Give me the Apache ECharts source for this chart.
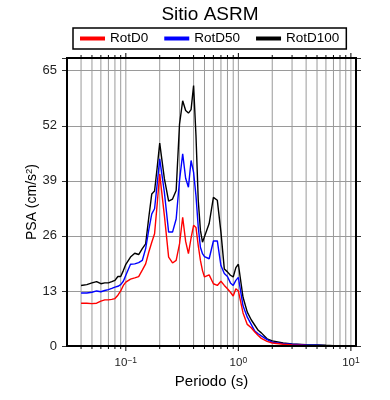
<!DOCTYPE html>
<html>
<head>
<meta charset="utf-8">
<script src="https://cdn.jsdelivr.net/npm/echarts@6/dist/echarts.min.js"></script>
<style>
  html, body { margin: 0; padding: 0; background: #fff; }
  #chart { width: 390px; height: 400px; }
</style>
</head>
<body>
<div id="chart"></div>
<script>
// periodos (s)
const periods = [0.04, 0.045, 0.05, 0.055, 0.06, 0.065, 0.07, 0.075, 0.08, 0.085, 0.09, 0.095,
  0.1, 0.11, 0.12, 0.13, 0.14, 0.15, 0.16, 0.17, 0.18, 0.19, 0.2,
  0.22, 0.24, 0.26, 0.28, 0.3, 0.32, 0.34, 0.36, 0.38, 0.4, 0.42, 0.44, 0.46, 0.48, 0.5,
  0.55, 0.6, 0.65, 0.7, 0.75, 0.8, 0.85, 0.9, 0.95, 1.0,
  1.1, 1.2, 1.3, 1.4, 1.5, 1.6, 1.8, 2.0, 2.5, 3.0, 4.0, 5.0, 6.0, 7.0, 8.0, 10.0];

const rotD0 = [10.1, 10.1, 10.0, 10.1, 10.6, 10.9, 10.9, 11.0, 11.2, 12.0, 13.0, 14.3,
  15.1, 15.8, 16.1, 16.4, 17.9, 19.4, 22.2, 24.5, 26.5, 33.6, 40.6,
  30.8, 21.0, 19.6, 20.2, 24.1, 30.4, 24.7, 21.8, 25.5, 28.5, 28.0, 23.7, 20.2, 17.8, 16.3,
  16.8, 14.7, 14.3, 15.3, 14.3, 13.5, 12.7, 11.8, 13.5, 13.0,
  7.8, 5.1, 4.3, 3.3, 2.5, 1.8, 1.1, 0.7, 0.4, 0.25, 0.15, 0.1, 0.07, 0.05, 0.04, 0.02];

const rotD50 = [12.5, 12.5, 12.7, 13.0, 12.8, 13.1, 13.3, 13.6, 13.9, 14.1, 14.5, 15.3,
  16.7, 19.3, 19.4, 19.7, 20.2, 23.0, 27.5, 31.2, 32.4, 38.3, 44.2,
  36.3, 26.9, 26.9, 30.0, 39.1, 45.4, 39.6, 37.5, 43.8, 41.0, 35.5, 28.1, 23.3, 21.8, 21.1,
  20.6, 24.8, 24.8, 19.0, 17.1, 16.4, 14.9, 14.3, 15.5, 16.2,
  9.5, 6.8, 5.1, 3.5, 2.9, 2.4, 1.5, 0.9, 0.55, 0.4, 0.24, 0.16, 0.1, 0.07, 0.05, 0.03];

const rotD100 = [14.3, 14.5, 14.9, 15.2, 14.7, 14.9, 14.9, 15.2, 15.5, 16.4, 16.4, 17.8,
  19.3, 21.0, 21.9, 21.6, 23.0, 24.1, 30.4, 35.9, 36.6, 42.2, 47.9,
  39.5, 34.2, 34.7, 36.7, 52.4, 57.9, 55.6, 55.0, 55.8, 61.5, 49.7, 34.4, 27.3, 24.5, 24.1,
  28.9, 35.1, 34.4, 26.9, 18.2, 17.5, 16.7, 16.3, 18.5, 19.3,
  11.5, 8.0, 6.2, 4.9, 3.7, 3.1, 1.7, 1.2, 0.7, 0.5, 0.3, 0.24, 0.16, 0.1, 0.08, 0.05];

// lineas verticales de la grilla logaritmica
const gridPeriods = [0.04, 0.05, 0.06, 0.07, 0.08, 0.09, 0.1, 0.2, 0.3, 0.4, 0.5, 0.6, 0.7, 0.8, 0.9,
  1, 2, 3, 4, 5, 6, 7, 8, 9, 10];
const majorPeriods = [0.1, 1, 10];
const yTickStep = 13;

const font = '"Liberation Sans", Arial, Helvetica, sans-serif';
const gridColor = '#9a9a9a';

const pairs = (vals) => periods.map((p, i) => [p, vals[i]]);

const chart = echarts.init(document.getElementById('chart'), null, { renderer: 'canvas' });

function powLabel(v) {
  const e = Math.round(Math.log10(v));
  if (Math.abs(Math.log10(v) - e) > 1e-6) return '';
  const exp = e < 0 ? '\u2212' + (-e) : String(e);
  return '{b|10}{sup|' + exp + '}';
}

chart.setOption({
  backgroundColor: '#fff',
  animation: false,
  textStyle: { fontFamily: font },
  title: {
    text: 'Sitio ASRM',
    left: 210,
    textAlign: 'center',
    top: 5,
    padding: 0,
    textStyle: { fontSize: 19, fontWeight: 'normal', color: '#000', fontFamily: font }
  },
  legend: {
    data: ['RotD0', 'RotD50', 'RotD100'],
    left: 73,
    top: 28,
    icon: 'rect',
    itemWidth: 25,
    itemHeight: 4,
    itemGap: 16,
    padding: [3.5, 7, 3.5, 7],
    borderColor: '#000',
    borderWidth: 1.5,
    textStyle: { fontSize: 13.5, color: '#000', fontFamily: font, lineHeight: 14 }
  },
  grid: {
    left: 67, top: 58, width: 289, height: 288,
    show: true, borderColor: '#000', borderWidth: 2,
    backgroundColor: 'transparent', z: 5,
    outerBoundsMode: 'none'
  },
  xAxis: {
    type: 'log',
    logBase: 10,
    min: 0.03,
    max: 11.1,
    name: 'Periodo (s)',
    nameLocation: 'middle',
    nameGap: 28,
    nameMoveOverlap: false,
    nameTextStyle: { fontSize: 15, color: '#000', fontFamily: font },
    axisLine: { show: false },
    axisTick: { show: false },
    splitLine: { show: false },
    axisLabel: {
      margin: 10,
      color: '#222',
      formatter: powLabel,
      rich: {
        b: { fontSize: 11.5, lineHeight: 14, color: '#222', fontFamily: font },
        sup: { fontSize: 8.5, lineHeight: 8, verticalAlign: 'top', color: '#222', fontFamily: font }
      }
    }
  },
  yAxis: [
    {
      type: 'value',
      min: 0,
      max: 68,
      interval: yTickStep,
      name: 'PSA (cm/s{sup|2})',
      nameLocation: 'middle',
      nameGap: 26,
      nameMoveOverlap: false,
      nameTextStyle: {
        fontSize: 14, color: '#000', fontFamily: font, lineHeight: 17,
        rich: { sup: { fontSize: 9.5, lineHeight: 9, verticalAlign: 'top', color: '#000', fontFamily: font } }
      },
      axisLine: { show: false },
      axisTick: { show: true, length: 5, lineStyle: { color: '#333', width: 1 } },
      splitLine: { show: true, lineStyle: { color: gridColor, width: 1 } },
      axisLabel: {
        margin: 10,
        fontSize: 13,
        color: '#222',
        formatter: (v) => (v % yTickStep === 0 ? String(v) : '')
      }
    },
    {
      type: 'value',
      position: 'right',
      min: 0,
      max: 68,
      interval: yTickStep,
      axisLine: { show: false },
      axisTick: { show: true, length: 5, lineStyle: { color: '#333', width: 1 } },
      splitLine: { show: false },
      axisLabel: { show: false }
    }
  ],
  series: [
    {
      // grilla vertical y marcas del eje x (inferior y superior)
      type: 'custom',
      name: 'grid',
      silent: true,
      clip: false,
      z: 1,
      data: gridPeriods.map((p) => [p, majorPeriods.includes(p) ? 1 : 0]),
      renderItem: (params, api) => {
        const cs = params.coordSys;
        const x = api.coord([api.value(0), 0])[0];
        const len = api.value(1) ? 5 : 3;
        const top = cs.y, bot = cs.y + cs.height;
        return {
          type: 'group',
          children: [
            { type: 'line', shape: { x1: x, y1: top, x2: x, y2: bot }, style: { stroke: gridColor, lineWidth: 1 } },
            { type: 'line', shape: { x1: x, y1: bot, x2: x, y2: bot + len }, style: { stroke: '#000', lineWidth: 1 } },
            { type: 'line', shape: { x1: x, y1: top, x2: x, y2: top - len }, style: { stroke: '#000', lineWidth: 1 } }
          ]
        };
      }
    },
    {
      name: 'RotD100', type: 'line', data: pairs(rotD100), showSymbol: false, z: 2,
      lineStyle: { color: '#000000', width: 1.4 }, itemStyle: { color: '#000000' }
    },
    {
      name: 'RotD50', type: 'line', data: pairs(rotD50), showSymbol: false, z: 3,
      lineStyle: { color: '#0000ff', width: 1.4 }, itemStyle: { color: '#0000ff' }
    },
    {
      name: 'RotD0', type: 'line', data: pairs(rotD0), showSymbol: false, z: 4,
      lineStyle: { color: '#ff0000', width: 1.4 }, itemStyle: { color: '#ff0000' }
    }
  ]
});
</script>
</body>
</html>
